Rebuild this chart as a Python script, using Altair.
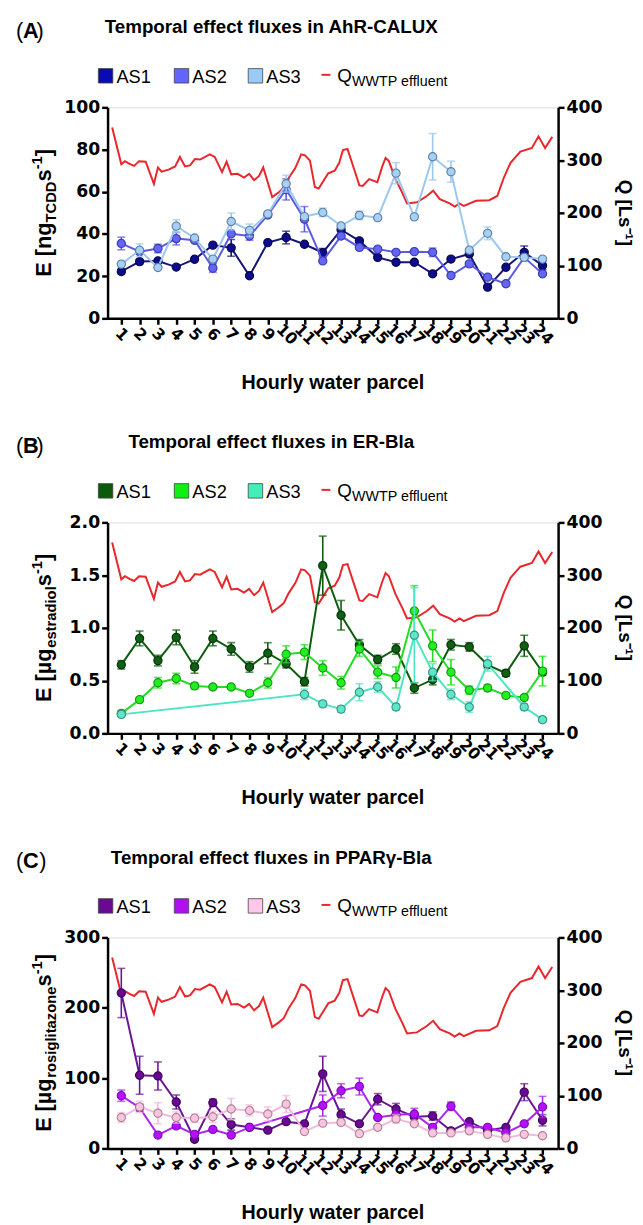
import altair as alt
import pandas as pd

hours = list(range(1, 25))

# Q WWTP effluent (shared by all panels)
q_hour = [0.5, 1.0, 1.2, 1.45, 1.7, 1.97, 2.33, 2.78, 3.0, 3.2, 3.58, 3.94, 4.2, 4.48, 4.75,
          5.02, 5.3, 5.83, 6.1, 6.5, 6.75, 7.0, 7.35, 7.7, 7.98, 8.25, 8.52, 8.75, 9.24, 9.6,
          9.87, 10.14, 10.5, 10.82, 11.03, 11.3, 11.57, 11.78, 12.1, 12.3, 12.65, 12.9, 13.1,
          13.35, 13.7, 14.0, 14.18, 14.53, 14.98, 15.25, 15.43, 15.61, 15.97, 16.33, 16.6,
          17.14, 17.68, 18.03, 18.39, 18.93, 19.2, 19.47, 19.7, 20.37, 21.09, 21.53, 21.89,
          22.25, 22.79, 23.42, 23.78, 24.14, 24.53]
q_flow = [362, 292, 298, 293, 289, 298, 297, 255, 286, 278, 282, 288, 306, 288, 290,
          302, 301, 311, 306, 277, 297, 273, 274, 267, 274, 262, 270, 286, 230, 239,
          247, 266, 285, 311, 309, 299, 249, 246, 264, 275, 280, 295, 319,
          321, 284, 252, 251, 264, 258, 288, 304, 298, 264, 239, 218,
          220, 232, 242, 226, 218, 212, 218, 213, 223, 224, 232, 267,
          295, 316, 323, 345, 323, 344]

# Panel A: AhR-CALUX
a_as1 = [22.2, 26.9, 27.2, 24.3, 28.0, 34.7, 33.4, 20.2, 35.9, 38.3, 35.1, 31.1,
         42.0, 36.7, 28.9, 26.6, 26.6, 21.1, 28.1, 30.5, 14.8, 24.2, 31.3, 25.0]
a_as2 = [35.5, 31.6, 33.1, 37.8, 37.0, 23.8, 40.1, 39.0, 49.0, 61.1, 47.0, 27.2,
         39.0, 33.6, 32.8, 31.3, 31.6, 31.3, 20.3, 25.8, 19.5, 16.4, 28.9, 21.1]
a_as3 = [25.7, 32.3, 24.1, 43.7, 38.1, 28.1, 45.9, 41.7, 49.5, 63.8, 48.2, 50.2,
         43.8, 48.8, 47.7, 68.8, 48.1, 76.6, 69.5, 32.3, 40.3, 29.2, 28.9, 28.1]
a_err1 = [1, 1, 1, 0, 0, 0, 4, 0, 0, 3, 0, 2, 0, 0, 0, 0, 0, 0, 0, 0, 0, 0, 3, 2]
a_err2 = [3, 0, 2, 3, 0, 2, 0, 2, 0, 5, 6, 0, 0, 0, 0, 0, 0, 2, 0, 0, 0, 0, 0, 0]
a_err3 = [0, 3, 0, 3, 0, 0, 4, 3, 0, 4, 0, 2, 0, 2, 0, 5, 0, 11, 5, 0, 3, 0, 0, 0]

# Panel B: ER-Bla
b_as1 = [0.65, 0.90, 0.69, 0.91, 0.63, 0.90, 0.80, 0.63, 0.76, 0.66, 0.49, 1.59,
         1.12, 0.84, 0.70, 0.80, 0.43, 0.51, 0.84, 0.82, 0.65, 0.57, 0.83, 0.58]
b_as2 = [0.19, 0.32, 0.48, 0.52, 0.45, 0.44, 0.44, 0.38, 0.48, 0.75, 0.77, 0.62,
         0.48, 0.80, 0.58, 0.53, 1.16, 0.83, 0.58, 0.41, 0.43, 0.36, 0.34, 0.59]
b_as3 = [0.18, None, None, None, None, None, None, None, None, None, 0.37, 0.28,
         0.23, 0.39, 0.44, 0.25, 0.93, 0.58, 0.37, 0.25, 0.66, None, 0.25, 0.13]
b_err1 = [0.04, 0.07, 0.05, 0.07, 0.06, 0.07, 0.06, 0.05, 0.10, 0.04, 0.04, 0.28,
          0.14, 0.05, 0.04, 0.05, 0.05, 0.05, 0.05, 0.04, 0.03, 0.03, 0.10, 0.03]
b_err2 = [0.02, 0.02, 0.05, 0.05, 0.03, 0.02, 0.02, 0.02, 0.05, 0.08, 0.07, 0.07,
          0.06, 0.07, 0.06, 0.10, 0.24, 0.15, 0.12, 0.04, 0.03, 0.02, 0.02, 0.14]
b_err3 = [0.02, 0, 0, 0, 0, 0, 0, 0, 0, 0, 0.05, 0.03,
          0.03, 0.08, 0.05, 0.03, 0.45, 0.08, 0.05, 0.05, 0.07, 0, 0.03, 0.02]

# Panel C: PPARgamma-Bla
c_as1 = [221, 104, 103, 66, 13, 65, 34, 30, 26, 38, 35, 106,
         48, 35, 70, 56, 45, 46, 25, 38, 25, 30, 80, 40]
c_as2 = [75, 58, 19, 32, 20, 27, 19, 30, None, None, None, 61,
         82, 88, 44, 48, 49, 30, 60, 30, 30, 22, 35, 59]
c_as3 = [44, 59, 50, 44, 43, 45, 56, 54, 49, 63, 24, 36,
         37, 21, 30, 42, 35, 22, 22, 25, 20, 15, 20, 18]
c_err1 = [35, 27, 20, 10, 0, 5, 8, 0, 0, 0, 0, 25, 8, 0, 8, 8, 0, 6, 0, 0, 0, 0, 12, 8]
c_err2 = [8, 5, 0, 0, 0, 0, 0, 0, 0, 0, 0, 15, 10, 12, 0, 0, 8, 0, 6, 0, 0, 0, 0, 15]
c_err3 = [7, 8, 15, 8, 6, 8, 15, 8, 10, 12, 0, 0, 0, 0, 0, 6, 0, 0, 0, 0, 0, 0, 0, 0]

series_names = ["AS1", "AS2", "AS3"]

PW, PH = 457, 214
TITLE_FONT = "Liberation Sans"
TICK_FONT = "DejaVu Sans"
RED = "#e8262b"

# Approximate Arial/Liberation Bold advance widths (em) for composing the rotated axis title
WB = {'E': .667, ' ': .278, '[': .333, ']': .333, 'n': .611, 'g': .611, 'T': .611, 'C': .722,
      'D': .722, 's': .556, 'µ': .611, 'e': .556, 't': .333, 'r': .389, 'a': .556, 'd': .611,
      'i': .278, 'o': .611, 'l': .278, 'z': .5, '-': .333, '1': .556}


def tw(s, size):
    return sum(WB.get(c, .6) for c in s) * size


dummy = pd.DataFrame({"a": [0]})


def txt(text, x, y, size, bold=False, align="left", baseline="alphabetic", angle=None,
        font=TITLE_FONT, color="black"):
    kw = dict(text=text, fontSize=size, font=font, align=align, baseline=baseline,
              color=color, fontWeight="bold" if bold else "normal")
    if angle is not None:
        kw["angle"] = angle
    return alt.Chart(dummy).mark_text(**kw).encode(x=alt.value(x), y=alt.value(y))


xaxis = alt.Axis(values=hours, labelAngle=45, labelAlign="center", labelBaseline="middle",
                 labelPadding=10, labelFont=TICK_FONT, labelFontWeight="bold", labelFontSize=16,
                 labelColor="black", tickSize=6, tickWidth=2.5, tickColor="black",
                 domainWidth=2.5, domainColor="black", title=None, grid=False,
                 labelFlush=False, labelOverlap=False)
X = alt.X("hour:Q", scale=alt.Scale(domain=[0.25, 24.85], nice=False, zero=False), axis=xaxis)


def panel(letter, title, subtxt, ymax, yvals, yfmt, vals, errs, lines, fills, strokes, legfills):
    yaxis = alt.Axis(values=yvals, format=yfmt, labelFont=TICK_FONT, labelFontWeight="bold",
                     labelFontSize=17.5, labelColor="black", tickSize=6, tickWidth=2.5,
                     tickColor="black", domainWidth=2.5, domainColor="black", labelPadding=2,
                     title=None, grid=False, labelFlush=False, labelOverlap=False)
    yscale = alt.Scale(domain=[0, ymax], nice=False, zero=True)
    layers = []
    for i, name in enumerate(series_names):
        rows = []
        for h, v, e in zip(hours, vals[i], errs[i]):
            if v is None:
                continue
            rows.append(dict(hour=h, value=v, lo=v - e, hi=v + e, err=e))
        df = pd.DataFrame(rows)
        dfe = df[df.err > 0]
        base = alt.Chart(df)
        layers.append(base.mark_line(color=lines[i], strokeWidth=2).encode(
            x=X, y=alt.Y("value:Q", scale=yscale, axis=yaxis)))
        if len(dfe):
            eb = alt.Chart(dfe)
            layers.append(eb.mark_rule(color=lines[i], strokeWidth=1.6).encode(
                x=X, y=alt.Y("lo:Q", scale=yscale, axis=yaxis), y2="hi:Q"))
            layers.append(eb.mark_tick(color=lines[i], orient="horizontal", size=8,
                                       thickness=1.6).encode(
                x=X, y=alt.Y("lo:Q", scale=yscale, axis=yaxis)))
            layers.append(eb.mark_tick(color=lines[i], orient="horizontal", size=8,
                                       thickness=1.6).encode(
                x=X, y=alt.Y("hi:Q", scale=yscale, axis=yaxis)))
        layers.append(base.mark_point(shape="circle", filled=True, size=70, fill=fills[i],
                                      stroke=strokes[i], strokeWidth=1.1, opacity=1).encode(
            x=X, y=alt.Y("value:Q", scale=yscale, axis=yaxis)))
    inner = alt.layer(*layers)

    qdf = pd.DataFrame({"hour": q_hour, "q": q_flow})
    qaxis = alt.Axis(orient="right", values=[0, 100, 200, 300, 400], labelFont=TICK_FONT,
                     labelFontWeight="bold", labelFontSize=17.5, labelColor="black", tickSize=6,
                     tickWidth=2.5, tickColor="black", domainWidth=2.5, domainColor="black",
                     labelPadding=2, title=None, grid=False, labelFlush=False,
                     labelOverlap=False)
    qline = alt.Chart(qdf).mark_line(color=RED, strokeWidth=2).encode(
        x=X, y=alt.Y("q:Q", scale=alt.Scale(domain=[0, 400], nice=False), axis=qaxis))

    deco = []
    # panel letter
    deco.append(txt("(", -93, -70, 22))
    deco.append(txt(letter, -93 + 7.3, -70, 22, bold=True))
    deco.append(txt(")", -93 + 7.3 + tw(letter, 22) * 1.0 + 0.5, -70, 22))
    # title
    deco.append(txt(title, 166, -75, 19, bold=True, align="center"))
    # legend
    lx = [-2, 75, 150]
    for i, name in enumerate(series_names):
        deco.append(alt.Chart(dummy).mark_square(size=215, fill=legfills[i], stroke="#444",
                                                  strokeWidth=0.8, opacity=1).encode(
            x=alt.value(lx[i]), y=alt.value(-32)))
        deco.append(txt(name, lx[i] + 11, -25, 18.5))
    deco.append(alt.Chart(dummy).mark_rule(color=RED, strokeWidth=2).encode(
        x=alt.value(217), x2=alt.value(226), y=alt.value(-33)))
    deco.append(txt("Q", 233, -26, 19))
    deco.append(txt("WWTP effluent", 248, -22, 14.5))
    # x title
    deco.append(txt("Hourly water parcel", PW / 2, PH + 72, 20, bold=True, align="center"))
    # right title
    deco.append(txt("Q [Ls⁻¹]", 519, PH / 2, 19, bold=True, align="center", angle=90))
    # left title composed of pieces (rotated 270)
    big, small = 22, 15
    pieces = [("E [", big, 0), (subtxt[0], big, 0), (subtxt[1], small, 5), ("s", big, 0),
              ("-1", small, -10), ("]", big, 0)]
    total = sum(tw(p, s) for p, s, _ in pieces)
    y0 = PH / 2 + total / 2
    x0 = -57
    cum = 0
    for p, s, sh in pieces:
        deco.append(txt(p, x0 + sh, y0 - cum, s, bold=True, angle=270))
        cum += tw(p, s)

    return alt.layer(qline, inner, *deco).resolve_scale(y="independent").properties(
        width=PW, height=PH)


pA = panel("A", "Temporal effect fluxes in AhR-CALUX", ("ng", "TCDD"), 100,
           [0, 20, 40, 60, 80, 100], "d",
           [a_as1, a_as2, a_as3], [a_err1, a_err2, a_err3],
           ["#14147a", "#5a5ae6", "#9cc8ef"], ["#0c0c8c", "#6464f5", "#a6d0f5"],
           ["#06064a", "#3a3ab0", "#5f7f9f"], ["#0a0ab4", "#6464ff", "#9ccaf7"])
pB = panel("B", "Temporal effect fluxes in ER-Bla", ("µg", "estradiol"), 2.0,
           [0, 0.5, 1.0, 1.5, 2.0], ".1f",
           [b_as1, b_as2, b_as3], [b_err1, b_err2, b_err3],
           ["#0c5c0c", "#22dd22", "#4ee6c0"], ["#0f5f14", "#22ee22", "#5ce8c8"],
           ["#053005", "#119911", "#3a8f80"], ["#0a5a0a", "#11ee11", "#44eebb"])
pC = panel("C", "Temporal effect fluxes in PPARγ-Bla", ("µg", "rosiglitazone"), 300,
           [0, 100, 200, 300], "d",
           [c_as1, c_as2, c_as3], [c_err1, c_err2, c_err3],
           ["#6b1595", "#b022f0", "#f4b8dc"], ["#6a0a94", "#b311ff", "#f7c4e2"],
           ["#3a0555", "#7a0ab0", "#b0808f"], ["#6a0a94", "#b010f0", "#ffc8e8"])

chart = alt.vconcat(pA, pB, pC, spacing=39).properties(
    padding={"left": 7, "top": 1, "right": 0, "bottom": 0}
).configure_view(stroke=None).configure(background="white")

chart.save("out.html", embed_options={"renderer": "svg", "actions": False})
